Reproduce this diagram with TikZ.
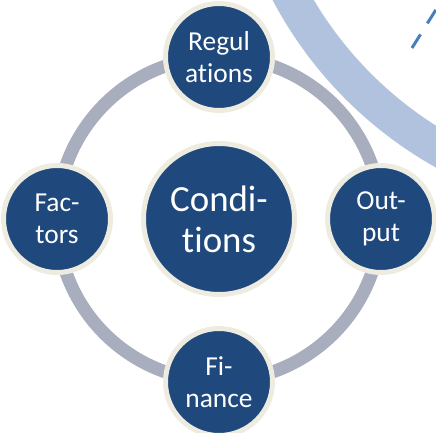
\documentclass[tikz,border=0pt]{standalone}
\usepackage{fontspec}
\setmainfont[Ligatures=NoCommon]{Carlito}
\usetikzlibrary{calc}
\definecolor{darkblue}{HTML}{1F497D}
\definecolor{creamline}{HTML}{EEECE1}
\definecolor{ringgray}{HTML}{A9AEBE}
\definecolor{bandblue}{HTML}{B0C2DE}
\definecolor{dashblue}{HTML}{4A7EBB}

\begin{document}
\begin{tikzpicture}[x=1bp,y=-1bp,
  topic/.style={circle,fill=darkblue,draw=creamline,line width=5bp,minimum size=107bp,
    inner sep=0pt,text=white,align=center,font=\fontsize{27.5}{32}\selectfont},
  core/.style={topic,minimum size=151bp,font=\fontsize{37}{41}\selectfont}]
  \path[use as bounding box,clip] (0,0) rectangle (436,433);
  % band and pointer in the corner
  \coordinate (bandc) at (636,-191);
  \draw[bandblue,line width=36bp] (bandc) circle (392.5bp);
  \coordinate (p1) at (412,48);
  \coordinate (p2) at (442,0);
  \draw[dashblue,line width=3bp,dash pattern=on 16bp off 13bp] (p1) -- (p2);
  % ring
  \coordinate (mid) at (219,219);
  \draw[ringgray,line width=13bp] (mid) circle (162bp);
  % topics
  \node[core] (cond) at (mid) {Condi-\\tions};
  \node[topic] (reg) at ($(mid)+(0,-162)$) {Regul\\ations};
  \node[topic] (fac) at ($(mid)+(-162,0)$) {Fac-\\tors};
  \node[topic] (out) at ($(mid)+(162,0)$) {Out-\\put};
  \node[topic] (fin) at ($(mid)+(0,163)$) {Fi-\\nance};
\end{tikzpicture}
\end{document}
